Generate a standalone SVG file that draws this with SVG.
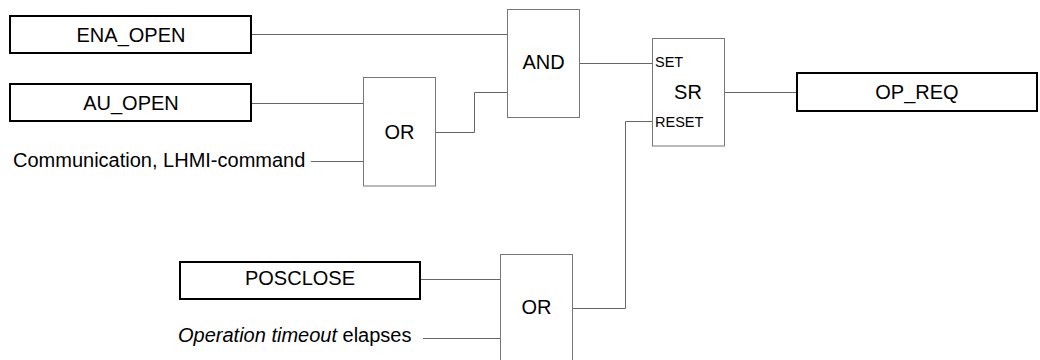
<svg xmlns="http://www.w3.org/2000/svg" width="1040" height="360" viewBox="0 0 1040 360">
<style>
.io{fill:#fff;stroke:#000;stroke-width:2}
.gate{fill:#fff;stroke:#777;stroke-width:1}
.t{font-family:"Liberation Sans",Arial,sans-serif;font-size:20px;fill:#000}
.c{text-anchor:middle}
.s{font-size:14.5px}
.w{fill:none;stroke:#666;stroke-width:1}
</style>
<rect width="1040" height="360" fill="#fff"/>
<g id="connectors">
<path class="w" d="M251 34.5 H507.5"/>
<path class="w" d="M251 103.5 H363.5"/>
<path class="w" d="M311 161.5 H363.5"/>
<path class="w" d="M435.5 132.5 H474.5 V92.5 H507.5"/>
<path class="w" d="M579.5 63.5 H652.5"/>
<path class="w" d="M724.5 92.5 H797"/>
<path class="w" d="M420 279.5 H500.5"/>
<path class="w" d="M423 338.5 H500.5"/>
<path class="w" d="M572.5 308.5 H625.5 V121.5 H652.5"/>
</g>
<g id="ena_open">
<rect class="io" x="10" y="16" width="241" height="37"/>
<text class="t c" x="131" y="42">ENA_OPEN</text>
</g>
<g id="au_open">
<rect class="io" x="10" y="84" width="241" height="37"/>
<text class="t c" x="131" y="110">AU_OPEN</text>
</g>
<g id="comm">
<text class="t" x="13" y="167">Communication, LHMI-command</text>
</g>
<g id="or1">
<rect class="gate" x="363.5" y="77.5" width="72" height="108.5"/>
<text class="t c" x="399.5" y="139">OR</text>
</g>
<g id="and">
<rect class="gate" x="507.5" y="9.5" width="72" height="108"/>
<text class="t c" x="543.5" y="69">AND</text>
</g>
<g id="sr">
<rect class="gate" x="652.5" y="38.5" width="72" height="107.5"/>
<text class="t s" x="655" y="67">SET</text>
<text class="t c" x="688" y="99">SR</text>
<text class="t s" x="655" y="127">RESET</text>
</g>
<g id="op_req">
<rect class="io" x="797" y="73" width="240" height="38"/>
<text class="t c" x="917" y="99">OP_REQ</text>
</g>
<g id="posclose">
<rect class="io" x="180" y="262" width="240" height="37"/>
<text class="t c" x="300" y="285">POSCLOSE</text>
</g>
<g id="timeout">
<text class="t" x="178" y="342"><tspan font-style="italic">Operation timeout</tspan> elapses</text>
</g>
<g id="or2">
<rect class="gate" x="500.5" y="254.5" width="72" height="110"/>
<text class="t c" x="536.5" y="314">OR</text>
</g>
</svg>
